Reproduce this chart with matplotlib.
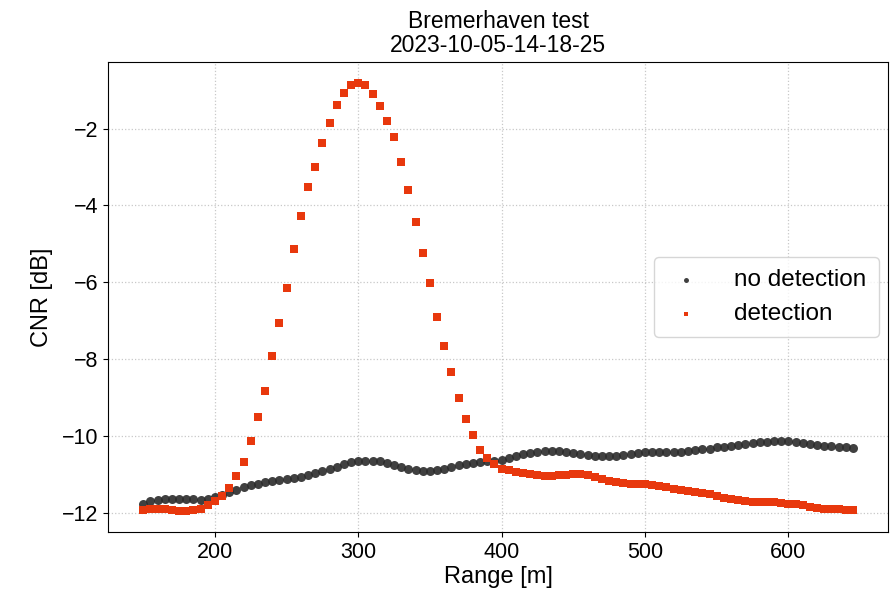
import matplotlib
matplotlib.use("Agg")
import matplotlib.pyplot as plt
import numpy as np

plt.rcParams["font.family"] = ["Liberation Sans", "DejaVu Sans"]

range_m = np.arange(150, 650, 5)

cnr_no_detection = [
    -11.76, -11.70, -11.67, -11.65, -11.65, -11.64, -11.64, -11.65, -11.66, -11.63,
    -11.59, -11.53, -11.46, -11.40, -11.34, -11.29, -11.25, -11.21, -11.17, -11.14,
    -11.12, -11.09, -11.06, -11.02, -10.97, -10.92, -10.86, -10.80, -10.74, -10.68,
    -10.65, -10.64, -10.64, -10.66, -10.70, -10.75, -10.80, -10.85, -10.89, -10.92,
    -10.92, -10.89, -10.86, -10.81, -10.77, -10.73, -10.70, -10.68, -10.66, -10.65,
    -10.62, -10.58, -10.53, -10.48, -10.44, -10.41, -10.40, -10.39, -10.40, -10.42,
    -10.45, -10.48, -10.50, -10.52, -10.53, -10.53, -10.52, -10.50, -10.47, -10.45,
    -10.43, -10.42, -10.42, -10.42, -10.42, -10.41, -10.39, -10.37, -10.35, -10.33,
    -10.30, -10.28, -10.25, -10.23, -10.21, -10.19, -10.17, -10.15, -10.13, -10.12,
    -10.12, -10.15, -10.18, -10.21, -10.23, -10.25, -10.26, -10.28, -10.29, -10.31,
]

cnr_detection = [
    -11.93, -11.90, -11.90, -11.91, -11.93, -11.95, -11.95, -11.94, -11.89, -11.81,
    -11.70, -11.57, -11.35, -11.05, -10.69, -10.12, -9.51, -8.84, -7.92, -7.06,
    -6.15, -5.14, -4.29, -3.51, -3.00, -2.37, -1.85, -1.38, -1.08, -0.88,
    -0.82, -0.88, -1.10, -1.41, -1.80, -2.22, -2.88, -3.60, -4.44, -5.23,
    -6.01, -6.91, -7.65, -8.34, -9.02, -9.56, -9.98, -10.37, -10.58, -10.73,
    -10.86, -10.90, -10.93, -10.97, -11.00, -11.02, -11.04, -11.05, -11.03, -11.01,
    -10.99, -10.99, -11.01, -11.07, -11.13, -11.18, -11.21, -11.23, -11.24, -11.24,
    -11.25, -11.28, -11.31, -11.34, -11.37, -11.40, -11.43, -11.46, -11.48, -11.52,
    -11.57, -11.61, -11.65, -11.68, -11.70, -11.71, -11.71, -11.71, -11.72, -11.74,
    -11.76, -11.78, -11.81, -11.84, -11.88, -11.89, -11.89, -11.91, -11.92, -11.92,
]

fig, ax = plt.subplots(figsize=(8.91, 5.94), dpi=100)
ax.scatter(range_m, cnr_no_detection, marker="o", s=42, color="#2b2b2b",
           alpha=0.9, linewidths=0, label="no detection", zorder=3)
ax.scatter(range_m, cnr_detection, marker="s", s=28, color="#e8380d",
           linewidths=0, label="detection", zorder=3)

ax.grid(True, linestyle=":", color="#c8c8c8", linewidth=0.9)
ax.set_xlabel("Range [m]", fontsize=17, labelpad=2)
ax.set_ylabel("CNR [dB]", fontsize=17, labelpad=6)
ax.set_title("Bremerhaven test\n2023-10-05-14-18-25", fontsize=16.5, linespacing=1.05,
             pad=7)
ax.tick_params(labelsize=15.5)
ax.set_xticks([200, 300, 400, 500, 600])
ax.set_yticks([-12, -10, -8, -6, -4, -2])
ax.legend(loc="center right", fontsize=17.5, markerscale=0.55, handletextpad=1.2,
          borderpad=0.5, handlelength=1.6, borderaxespad=0.4)

fig.subplots_adjust(left=0.121, right=0.997, top=0.896, bottom=0.104)
fig.savefig("out.png", dpi=100)
